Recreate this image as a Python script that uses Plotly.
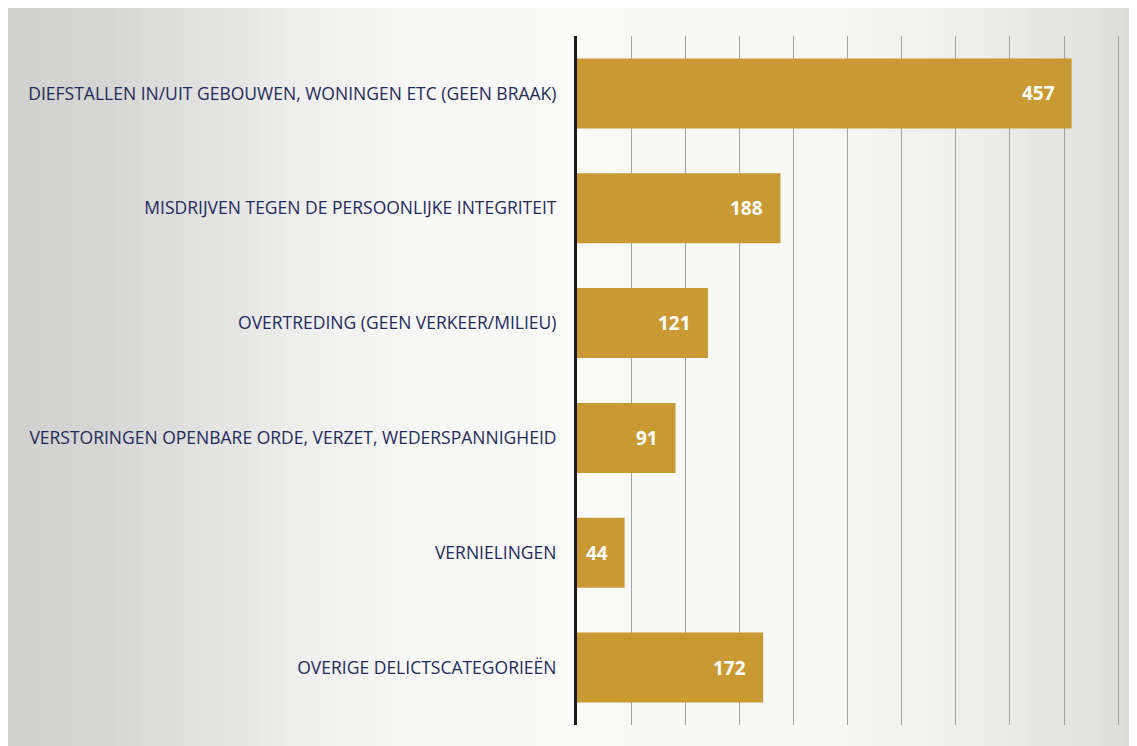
import plotly.graph_objects as go

categories = [
    "DIEFSTALLEN IN/UIT GEBOUWEN, WONINGEN ETC (GEEN BRAAK)",
    "MISDRIJVEN TEGEN DE PERSOONLIJKE INTEGRITEIT",
    "OVERTREDING (GEEN VERKEER/MILIEU)",
    "VERSTORINGEN OPENBARE ORDE, VERZET, WEDERSPANNIGHEID",
    "VERNIELINGEN",
    "OVERIGE DELICTSCATEGORIEËN",
]
values = [457, 188, 121, 91, 44, 172]
value_labels = [str(v) for v in values]

BAR_COLOR = "#c99a33"
LABEL_COLOR = "#1e2b5c"

# figure sits in the page with the browser's default 8px body margin
W, H = 1137, 746
ML, MR, MT, MB = 569, 16, 28, 29
PW = W - ML - MR
PH = H - MT - MB

fig = go.Figure()
fig.add_trace(go.Bar(
    x=values,
    y=categories,
    orientation="h",
    marker=dict(color=BAR_COLOR, line=dict(width=0)),
    hoverinfo="x+y",
))

for v, c, t in zip(values, categories, value_labels):
    fig.add_annotation(
        x=v, y=c, text=t, showarrow=False, xanchor="right", xshift=-15,
        font=dict(family="Open Sans", size=19, color="white", weight="bold"),
    )

# scanned-paper background: grey at the edges, white in the middle
key = [(0, 208), (100, 214), (200, 226), (300, 239), (400, 247),
       (550, 250), (800, 248), (900, 242), (1000, 234), (1080, 226), (1137, 218)]


def grey_at(px):
    for (a, ga), (b, gb) in zip(key[:-1], key[1:]):
        if a <= px <= b:
            return ga + (gb - ga) * (px - a) / (b - a)
    return key[-1][1]


shapes = []
step = 12
for px in range(0, W, step):
    g = int(round(grey_at(px + step / 2)))
    col = f"rgb({g},{g},{max(g - 2, 0)})"
    shapes.append(dict(
        type="rect", xref="paper", yref="paper", layer="below",
        x0=(px - ML) / PW, x1=(px + step + 1 - ML) / PW,
        y0=-MB / PH, y1=(H - MB) / PH,
        fillcolor=col, line=dict(width=0),
    ))

fig.update_layout(
    width=W, height=H,
    margin=dict(l=ML, r=MR, t=MT, b=MB, pad=0),
    paper_bgcolor="white",
    plot_bgcolor="rgba(0,0,0,0)",
    showlegend=False,
    bargap=0.39,
    shapes=shapes,
    xaxis=dict(
        range=[0, 510], dtick=50, showgrid=True, gridcolor="#a3a3a3",
        gridwidth=1, showticklabels=False, zeroline=False, showline=False,
        ticks="",
    ),
    yaxis=dict(
        autorange="reversed", showline=True, linecolor="#1a1a1a", linewidth=3,
        ticks="", ticklabelstandoff=14, showgrid=False,
        tickfont=dict(family="Open Sans", size=17.5, color=LABEL_COLOR, weight=500),
    ),
)

fig.write_html("out.html")
